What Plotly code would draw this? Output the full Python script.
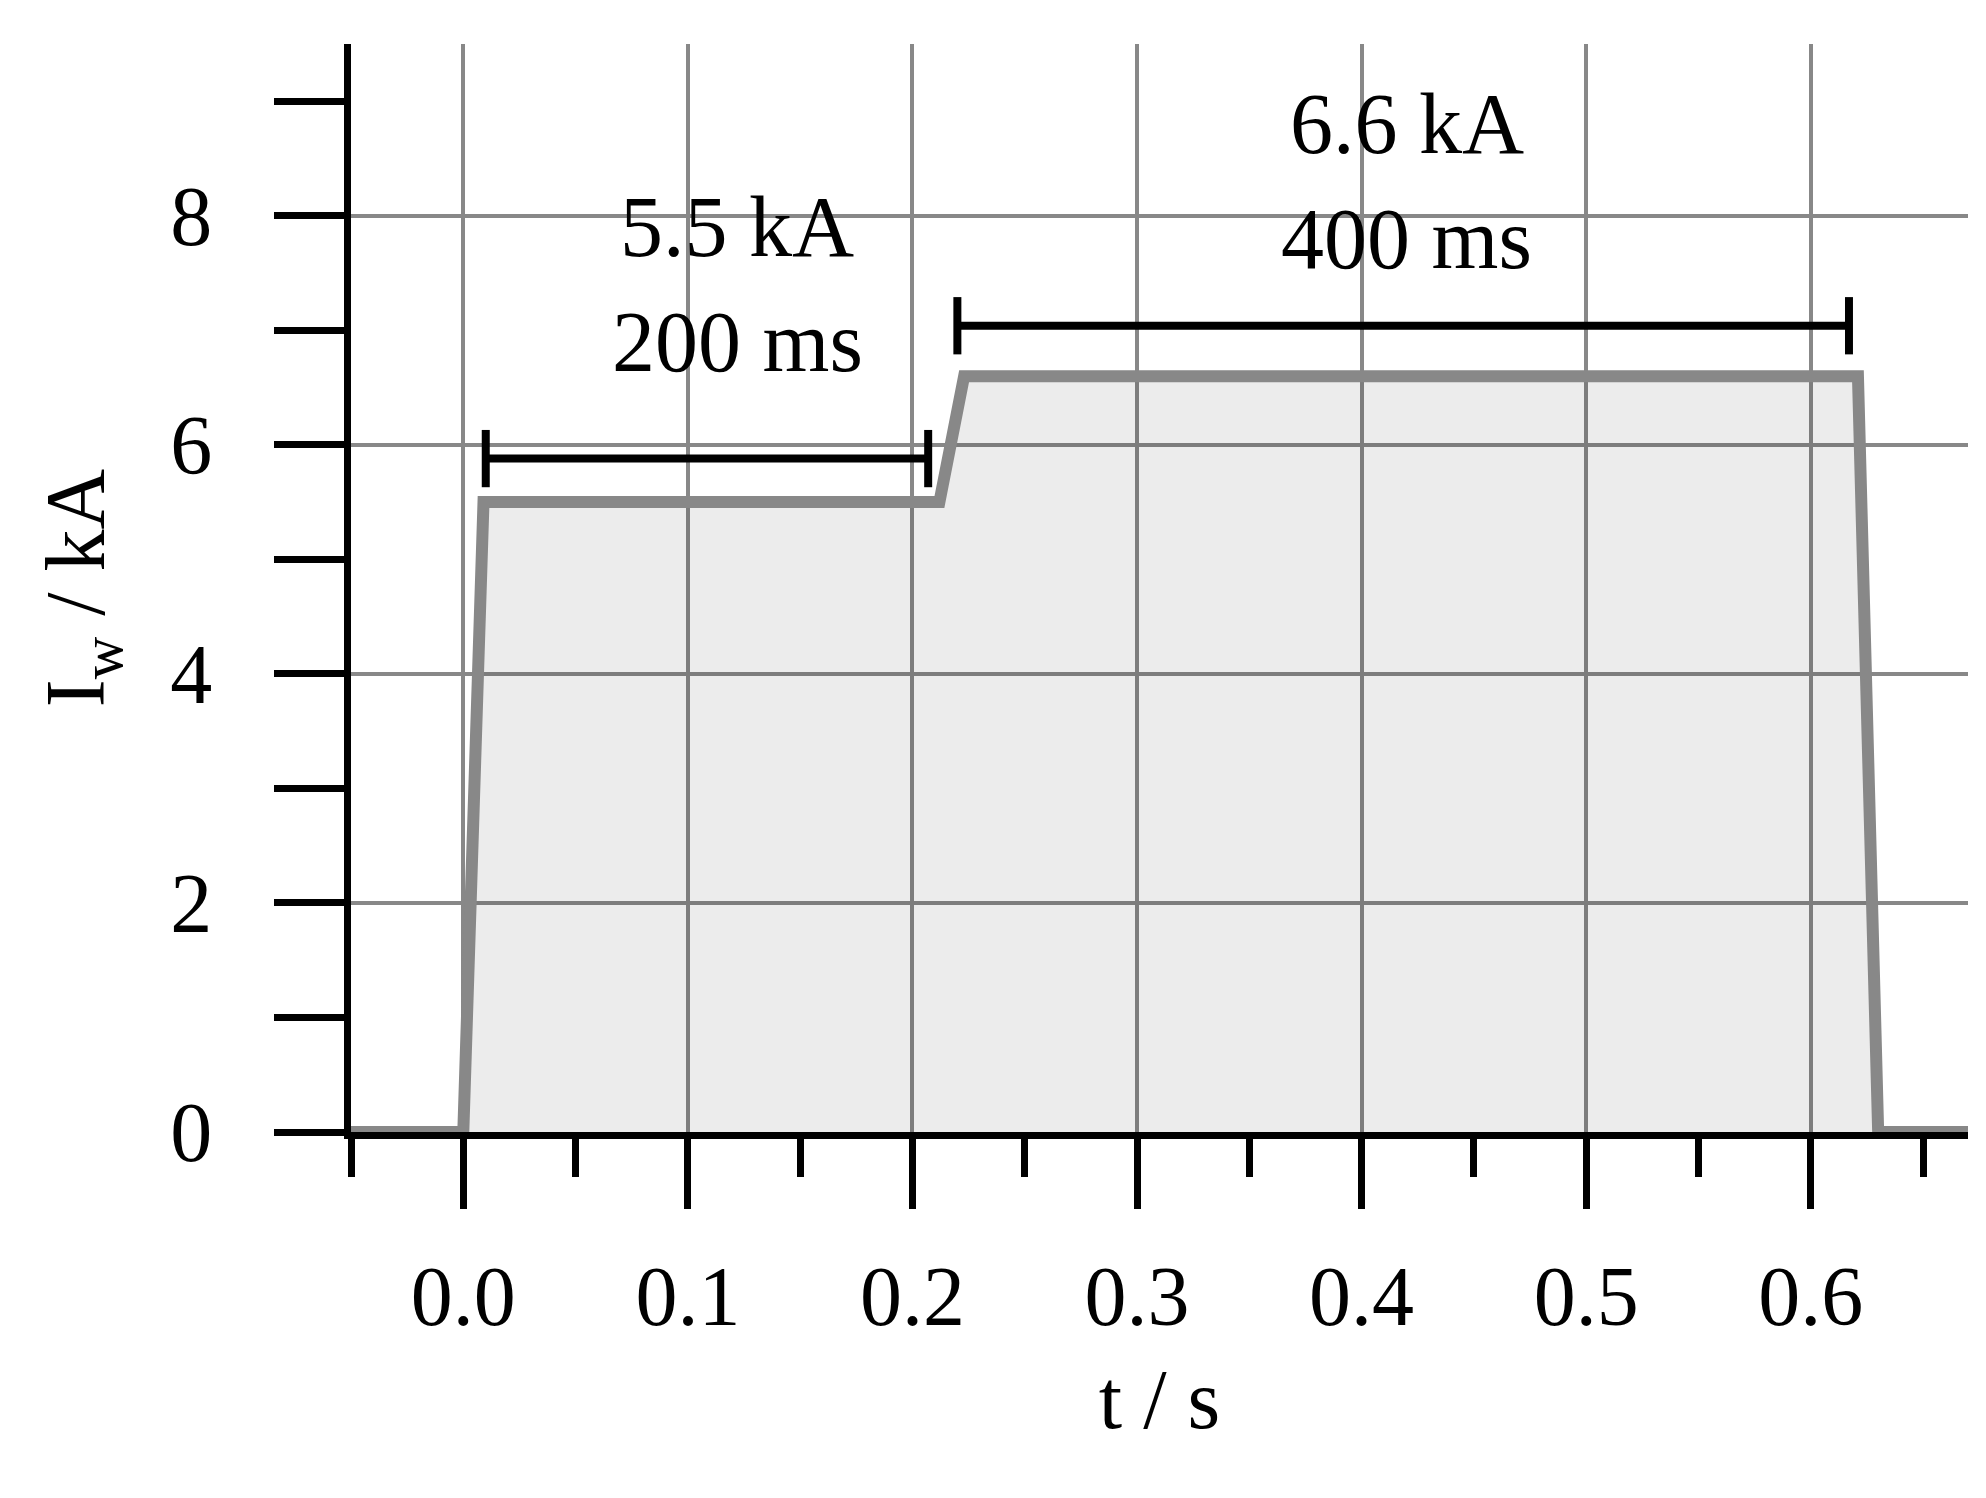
import plotly.graph_objects as go

t = [-0.05, 0.0, 0.009, 0.212, 0.223, 0.621, 0.630, 0.67]
I = [0, 0, 5.5, 5.5, 6.6, 6.6, 0, 0]

brackets = [(0.01, 0.207, 5.88), (0.22, 0.617, 7.04)]
cap = 0.25
labels = [(0.122, 7.9, "5.5 kA"), (0.122, 6.9, "200 ms"),
          (0.42, 8.8, "6.6 kA"), (0.42, 7.8, "400 ms")]

FONT = "Liberation Serif"
fig = go.Figure()
fig.add_trace(go.Scatter(x=t, y=I, mode="lines", fill="tozeroy",
                         fillcolor="rgba(0,0,0,0.075)", line=dict(color="#888888", width=12),
                         hoverinfo="skip"))
for x0, x1, y in brackets:
    fig.add_trace(go.Scatter(
        x=[x0, x0, None, x0, x1, None, x1, x1],
        y=[y - cap, y + cap, None, y, y, None, y - cap, y + cap],
        mode="lines", line=dict(color="black", width=8)))
for x, y, s in labels:
    fig.add_annotation(x=x, y=y, text=s, showarrow=False,
                       font=dict(family=FONT, size=86, color="black"))

fig.update_layout(
    width=1986, height=1498, showlegend=False,
    paper_bgcolor="white", plot_bgcolor="white",
    margin=dict(l=343, r=26, t=36, b=374),
    font=dict(family=FONT, size=84, color="black"),
    xaxis=dict(range=[-0.05, 0.67], tick0=0, dtick=0.1, tickformat=".1f",
               showgrid=True, gridcolor="#888888", gridwidth=4, zeroline=False,
               showline=True, linecolor="black", linewidth=7,
               ticks="outside", ticklen=70, tickwidth=7, tickcolor="black",
               ticklabelstandoff=15,
               minor=dict(tick0=-0.05, dtick=0.1, ticks="outside", ticklen=38,
                          tickwidth=7, tickcolor="black", showgrid=False),
               title=dict(text="t / s", font=dict(size=84), standoff=30)),
    yaxis=dict(range=[0, 9.5], tick0=0, dtick=2,
               showgrid=True, gridcolor="#888888", gridwidth=4, zeroline=False,
               showline=True, linecolor="black", linewidth=7,
               ticks="outside", ticklen=70, tickwidth=7, tickcolor="black",
               ticklabelstandoff=45,
               minor=dict(tick0=1, dtick=2, ticks="outside", ticklen=70,
                          tickwidth=7, tickcolor="black", showgrid=False),
               title=dict(text="I<sub>w</sub> / kA", font=dict(size=84), standoff=40)),
)
fig.write_html("out.html")
